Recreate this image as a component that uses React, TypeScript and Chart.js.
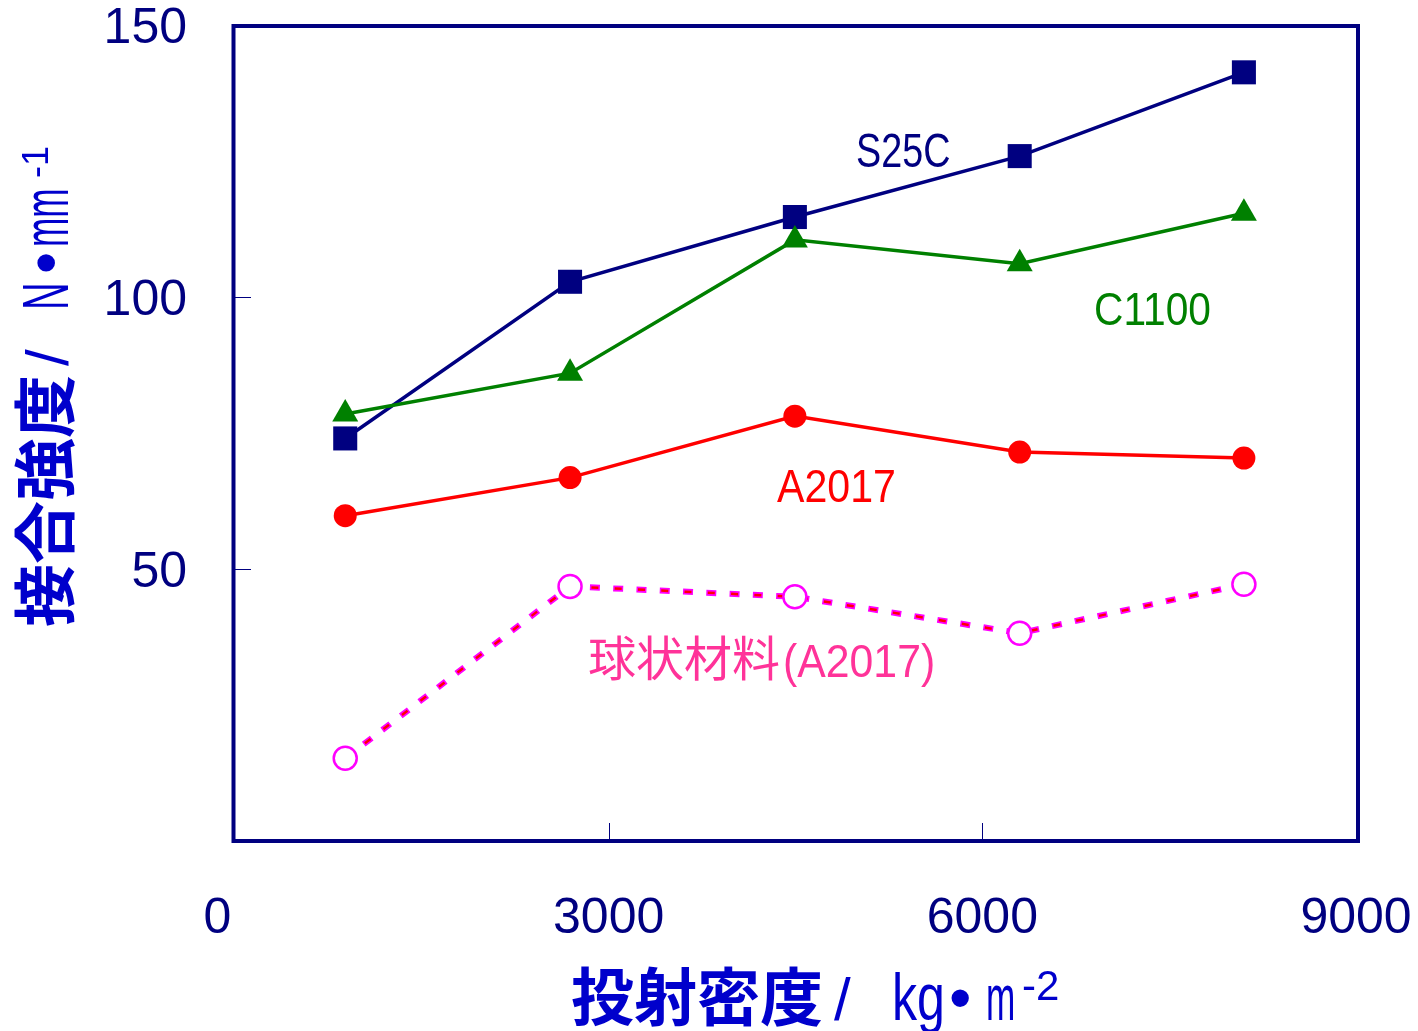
import { useEffect, useRef } from 'react';
import { Chart, registerables } from 'chart.js';

Chart.register(...registerables);

// 投射密度 (kg·m^-2) at which each specimen was tested
const densities = [885, 2690, 4495, 6300, 8100];
// 接合強度 (N·mm^-1) per material
const s25c = [74.0, 102.8, 114.7, 125.9, 141.3];
const c1100 = [78.5, 86.0, 110.5, 106.1, 115.4];
const a2017 = [59.8, 66.8, 78.1, 71.5, 70.4];
const sphericalA2017 = [15.2, 46.8, 44.9, 38.2, 47.2];

const xTickValues = [0, 3000, 6000, 9000];
const yTickValues = [0, 50, 100, 150];

const seriesNames = ['S25C', 'C1100', 'A2017', '球状材料(A2017)'];

const NAVY = '#000080';
const GREEN = '#008000';
const RED = '#ff0000';
const MAGENTA = '#ff00ff';
const PINK = '#ff3399';
const TITLE_BLUE = '#0000cc';

const LATIN = '"Liberation Sans", Arial, sans-serif';
const CJK = '"Noto Sans CJK JP", "Noto Sans CJK SC", sans-serif';

type Run = { text: string; x: number; font: string; sx?: number; dy?: number };

const toPoints = (ys: number[]) => densities.map((x, i) => ({ x, y: ys[i] }));

function drawRuns(ctx: CanvasRenderingContext2D, runs: Run[], baseY: number, color: string) {
  ctx.fillStyle = color;
  ctx.textAlign = 'left';
  ctx.textBaseline = 'alphabetic';
  for (const r of runs) {
    ctx.save();
    ctx.font = r.font;
    ctx.translate(r.x, baseY + (r.dy || 0));
    ctx.scale(r.sx || 1, 1);
    ctx.fillText(r.text, 0, 0);
    ctx.restore();
  }
}

// keep the plot area fixed: tick labels may overhang the area edges
const noOverhang = (scale: any) => {
  scale.paddingTop = 0;
  scale.paddingBottom = 0;
  scale.paddingLeft = 0;
  scale.paddingRight = 0;
};

const decorPlugin = {
  id: 'decor',
  beforeDatasetsDraw(chart: any) {
    const { ctx, chartArea: a, scales } = chart;
    ctx.save();
    // inner tick marks
    ctx.strokeStyle = NAVY;
    ctx.lineWidth = 1;
    for (const v of xTickValues.slice(1, -1)) {
      const px = Math.round(scales.x.getPixelForValue(v)) + 0.5;
      ctx.beginPath();
      ctx.moveTo(px, a.bottom);
      ctx.lineTo(px, a.bottom - 18);
      ctx.stroke();
    }
    for (const v of yTickValues.slice(1, -1)) {
      const py = Math.round(scales.y.getPixelForValue(v)) + 0.5;
      ctx.beginPath();
      ctx.moveTo(a.left, py);
      ctx.lineTo(a.left + 16, py);
      ctx.stroke();
    }
    // plot frame
    ctx.lineWidth = 4;
    ctx.strokeStyle = NAVY;
    ctx.strokeRect(a.left - 1.5, a.top + 1, a.right - a.left + 3.5, a.bottom - a.top - 1);
    ctx.restore();
  },
  afterDraw(chart: any) {
    const { ctx } = chart;
    ctx.save();
    // series labels
    drawRuns(ctx, [{ text: seriesNames[0], x: 856, font: `49px ${LATIN}`, sx: 0.77 }], 167, NAVY);
    drawRuns(ctx, [{ text: seriesNames[1], x: 1094, font: `46px ${LATIN}`, sx: 0.885 }], 325, GREEN);
    drawRuns(ctx, [{ text: seriesNames[2], x: 777, font: `47px ${LATIN}`, sx: 0.875 }], 502, RED);
    drawRuns(ctx, [{ text: '球状材料', x: 588, font: `48px ${CJK}` }], 676, PINK);
    drawRuns(ctx, [{ text: '(A2017)', x: 783, font: `46px ${LATIN}`, sx: 0.93 }], 677, PINK);

    // x axis title
    drawRuns(
      ctx,
      [
        { text: '投射密度', x: 571, font: `bold 63px ${CJK}` },
        { text: '/', x: 834, font: `60px ${LATIN}` },
        { text: 'kg', x: 892, font: `66px ${LATIN}`, sx: 0.76 },
        { text: '•', x: 949, font: `64px ${LATIN}` },
        { text: 'm', x: 986, font: `64px ${LATIN}`, sx: 0.55 },
        { text: '-2', x: 1022, font: `42px ${LATIN}`, dy: -20 },
      ],
      1020,
      TITLE_BLUE
    );

    // y axis title, rotated to read bottom to top
    ctx.save();
    ctx.translate(68, 625);
    ctx.rotate(-Math.PI / 2);
    drawRuns(
      ctx,
      [
        { text: '接合強度', x: -2, font: `bold 63px ${CJK}` },
        { text: '/', x: 259, font: `60px ${LATIN}` },
        { text: 'N', x: 315, font: `64px ${LATIN}`, sx: 0.6 },
        { text: '•', x: 351, font: `64px ${LATIN}` },
        { text: 'mm', x: 378, font: `64px ${LATIN}`, sx: 0.55 },
        { text: '-1', x: 447, font: `36px ${LATIN}`, dy: -20 },
      ],
      0,
      TITLE_BLUE
    );
    ctx.restore();
    ctx.restore();
  },
};

export default function App() {
  const canvasRef = useRef<HTMLCanvasElement | null>(null);

  useEffect(() => {
    document.body.style.margin = '0';
    const canvas = canvasRef.current;
    if (!canvas) return;
    const chart = new Chart(canvas, {
      type: 'line',
      data: {
        datasets: [
          {
            label: seriesNames[0],
            data: toPoints(s25c),
            borderColor: NAVY,
            backgroundColor: NAVY,
            borderWidth: 3.5,
            pointStyle: 'rect',
            pointRadius: 17,
            pointBorderWidth: 0,
            tension: 0,
            order: 5,
          },
          {
            label: seriesNames[1],
            data: toPoints(c1100),
            borderColor: GREEN,
            backgroundColor: GREEN,
            borderWidth: 3.5,
            pointStyle: 'triangle',
            pointRadius: 15,
            pointBorderWidth: 0,
            tension: 0,
            order: 4,
          },
          {
            label: seriesNames[2],
            data: toPoints(a2017),
            borderColor: RED,
            backgroundColor: RED,
            borderWidth: 3.5,
            pointStyle: 'circle',
            pointRadius: 11.5,
            pointBorderWidth: 0,
            tension: 0,
            order: 3,
          },
          {
            label: seriesNames[3],
            data: toPoints(sphericalA2017),
            borderColor: MAGENTA,
            borderWidth: 6,
            borderDash: [10, 13.3],
            borderCapStyle: 'butt',
            pointRadius: 0,
            tension: 0,
            order: 2,
          },
          {
            label: seriesNames[3] + ' core',
            data: toPoints(sphericalA2017),
            borderColor: RED,
            borderWidth: 2.5,
            borderDash: [7, 16.3],
            borderDashOffset: -1.5,
            borderCapStyle: 'butt',
            pointRadius: 0,
            tension: 0,
            order: 1.5,
          },
          {
            label: seriesNames[3] + ' points',
            data: toPoints(sphericalA2017),
            showLine: false,
            borderColor: MAGENTA,
            backgroundColor: '#ffffff',
            pointStyle: 'circle',
            pointRadius: 11.5,
            pointBorderWidth: 2.5,
            order: 1,
          },
        ],
      },
      options: {
        responsive: false,
        animation: false,
        events: [],
        layout: { padding: { top: 25, right: 62, left: 0, bottom: 0 } },
        plugins: {
          legend: { display: false },
          tooltip: { enabled: false },
        },
        scales: {
          x: {
            type: 'linear',
            min: 0,
            max: 9000,
            afterBuildTicks: (scale: any) => {
              scale.ticks = xTickValues.map((value) => ({ value }));
            },
            afterFit: (scale: any) => {
              scale.height = 190;
              noOverhang(scale);
            },
            grid: { display: false, drawTicks: false },
            border: { display: false },
            ticks: {
              autoSkip: false,
              maxRotation: 0,
              padding: 53,
              color: NAVY,
              font: { family: LATIN, size: 50, lineHeight: 1 },
              // the origin label sits a little left of the corner
              callback: (v: any) => (v === 0 ? '0\u2002\u2009' : String(v)),
            },
          },
          y: {
            type: 'linear',
            min: 0,
            max: 150,
            afterBuildTicks: (scale: any) => {
              scale.ticks = yTickValues.map((value) => ({ value }));
            },
            afterFit: (scale: any) => {
              scale.width = 235;
              noOverhang(scale);
            },
            grid: { display: false, drawTicks: false },
            border: { display: false },
            ticks: {
              padding: 48,
              labelOffset: 4,
              color: NAVY,
              font: { family: LATIN, size: 50, lineHeight: 1 },
              callback: (v: any) => (v === 0 ? '' : String(v)),
            },
          },
        },
      },
      plugins: [decorPlugin],
    } as any);
    return () => chart.destroy();
  }, []);

  return (
    <div style={{ position: 'absolute', left: 0, top: 0, width: 1418, height: 1031, background: '#ffffff' }}>
      <canvas ref={canvasRef} width={1418} height={1031} />
    </div>
  );
}
